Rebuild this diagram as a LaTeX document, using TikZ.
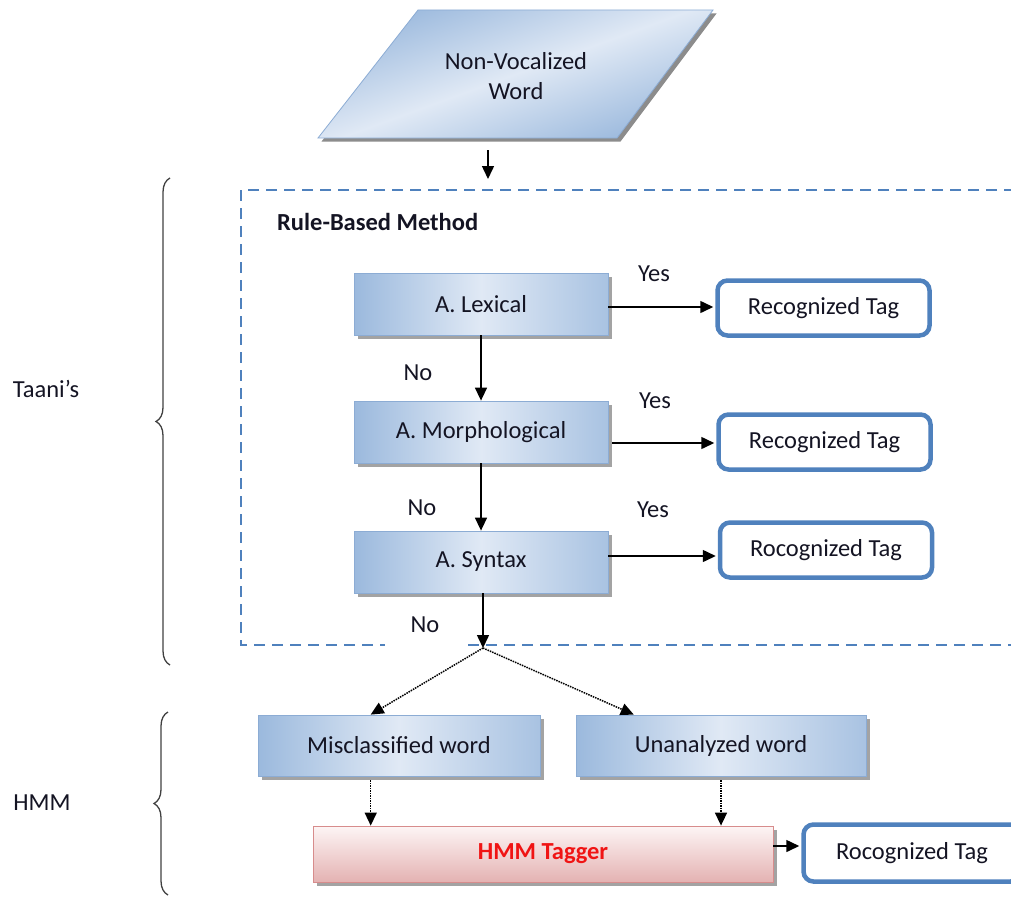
\documentclass[tikz,border=0pt]{standalone}
\usepackage{fontspec}
\setmainfont{Carlito}
\usetikzlibrary{shadows,arrows.meta,decorations.pathreplacing,calc}
\definecolor{boxlight}{RGB}{224,233,245}
\definecolor{boxmid}{RGB}{155,185,221}
\definecolor{boxedge}{RGB}{140,172,212}
\definecolor{tagedge}{RGB}{79,129,189}
\definecolor{dashblue}{RGB}{79,129,189}
\definecolor{pinklight}{RGB}{253,245,245}
\definecolor{pinkdark}{RGB}{228,178,178}
\definecolor{pinkedge}{RGB}{215,140,140}
\definecolor{txt}{RGB}{20,20,35}
\definecolor{hmmred}{RGB}{240,20,20}
\begin{document}
\begin{tikzpicture}[x=1pt,y=-1pt,
  font=\fontsize{24.5}{30}\selectfont, text=txt,
  shadowed/.style={drop shadow={shadow xshift=3.5pt,shadow yshift=-3.5pt,fill=black!45,opacity=0.8}},
  proc/.style={shadowed,draw=boxedge,line width=0.8pt,left color=boxmid,right color=boxmid!80!boxlight,middle color=boxlight,
     minimum width=254pt,minimum height=62pt,inner sep=0pt},
  wordbox/.style={proc,minimum height=61pt},
  tagbox/.style={draw=tagedge,line width=4.5pt,rounded corners=10pt,fill=white,minimum width=212pt,minimum height=55pt,inner sep=0pt},
  hmmbox/.style={shadowed,draw=pinkedge,line width=0.8pt,top color=pinklight,bottom color=pinkdark,
     minimum width=460pt,minimum height=56pt,inner sep=0pt,text=hmmred,font=\fontsize{24.5}{30}\selectfont\bfseries},
  arr/.style={line width=1.5pt,draw=black,-{Triangle[length=13pt,width=12pt]}},
  dotarr/.style={arr,densely dotted,line width=1.5pt},
  lbl/.style={inner sep=0pt,anchor=center},
  bracestyle/.style={decorate,decoration={brace,amplitude=14pt},line width=1.3pt,draw=black!75}
]
\clip (0,0) rectangle (1011,899);

% input parallelogram
\fill[black!45] (421.5,13.5) -- (716.5,13.5) -- (620.5,141.5) -- (321.5,141.5) -- cycle;
\shade[draw=boxedge,line width=0.8pt,left color=boxmid,right color=boxmid,middle color=boxlight,shading angle=20]
  (418,10) -- (713,10) -- (617,138) -- (318,138) -- cycle;
\node[lbl,align=center] (input) at (516,76) {Non-Vocalized\\Word};
\coordinate (inbot) at (488,150);
\coordinate (rbtop) at (488,179);
\draw[arr] (inbot) -- (rbtop);

% dashed container
\draw[dashblue,line width=1.3pt,dash pattern=on 11pt off 7pt]
  (1015,190) -- (241,190) -- (241,645) -- (385,645);
\draw[dashblue,line width=1.3pt,dash pattern=on 11pt off 7pt] (468,645) -- (1015,645);
\node[anchor=west,inner sep=0pt,font=\fontsize{24.5}{30}\selectfont\bfseries] (rbm) at (277,222) {Rule-Based Method};

% rule steps
\node[proc] (lex) at (481,304) {A. Lexical};
\node[proc] (mor) at (481,432) {A. Morphological};
\node[proc] (syn) at (481,562) {A. Syntax};

\node[tagbox] (t1) at (823.5,308) {Recognized Tag};
\node[tagbox] (t2) at (824.5,442) {Recognized Tag};
\node[tagbox] (t3) at (826,550) {Rocognized Tag};

\draw[arr] (lex.south) -- (mor.north);
\draw[arr] (mor.south) -- (syn.north);
\coordinate (split) at (483,648);
\draw[arr] (syn.south -| split) -- (split);

\draw[arr,shorten >=2pt] (lex.east |- 0,307) -- (t1.west |- 0,307);
\draw[arr,shorten >=2pt] (612,443) coordinate (m0) -- (t2.west |- m0);
\draw[arr,shorten >=2pt] (syn.east |- 0,556) -- (t3.west |- 0,556);

\node[lbl] (y1) at (654,274) {Yes};
\node[lbl] (y2) at (655,401) {Yes};
\node[lbl] (y3) at (653,510) {Yes};
\node[lbl] (n1) at (418,373) {No};
\node[lbl] (n2) at (422,508) {No};
\node[lbl] (n3) at (425,625) {No};

% HMM part
\node[wordbox,minimum width=282pt] (mis) at (399,745.5) {Misclassified word};
\node[wordbox,minimum width=290pt] (una) at (721,745.5) {Unanalyzed word};
\node[hmmbox] (hmm) at (543,854) {HMM Tagger};
\node[tagbox,minimum width=217pt,minimum height=57pt] (t4) at (912,853) {Rocognized Tag};

\draw[dotarr] (split) -- ($(mis.north west)!0.40!(mis.north east)$);
\draw[dotarr] (split) -- ($(una.north west)!0.20!(una.north east)$);
\coordinate (ms) at ($(mis.south west)!0.40!(mis.south east)$);
\draw[dotarr] ($(ms)+(0,4)$) -- (ms |- hmm.north);
\draw[dotarr] ($(una.south)+(0,4)$) -- (una.south |- hmm.north);
\draw[arr,shorten >=2pt] (hmm.east |- 0,846) -- (t4.west |- 0,846);

% braces and side labels
\draw[bracestyle] (170,665) -- (170,178);
\draw[bracestyle] (168,895) -- (168,712);
\node[lbl] (taani) at (46,389) {Taani’s};
\node[lbl] (hmmlbl) at (42,803) {HMM};
\end{tikzpicture}
\end{document}
